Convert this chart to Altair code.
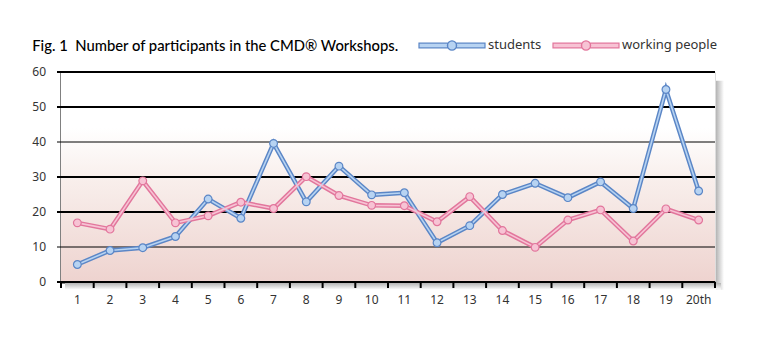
import altair as alt
import pandas as pd

workshops = ["1", "2", "3", "4", "5", "6", "7", "8", "9", "10",
             "11", "12", "13", "14", "15", "16", "17", "18", "19", "20th"]
students = [5, 9, 9.8, 13, 23.7, 18.2, 39.6, 22.9, 33.1, 24.9,
            25.5, 11.2, 16.1, 25, 28.2, 24.1, 28.6, 21, 55, 26]
working_people = [16.9, 15.1, 28.9, 16.9, 18.9, 22.8, 21, 30.1, 24.7, 21.9,
                  21.8, 17.2, 24.4, 14.7, 9.9, 17.7, 20.6, 11.7, 20.9, 17.7]
series_names = ["students", "working people"]
dark_colors = ["#5b86c6", "#e2769c"]
light_colors = ["#b7d3f2", "#f7c3d4"]
y_ticks = [0, 10, 20, 30, 40, 50, 60]
thin_ticks = [10, 40]

rows = []
for w, s, p in zip(workshops, students, working_people):
    rows.append({"workshop": w, "series": "students", "value": s})
    rows.append({"workshop": w, "series": "working people", "value": p})
df = pd.DataFrame(rows)
ticks_df = pd.DataFrame({"value": y_ticks})
ticks_df["thin"] = ticks_df["value"].isin(thin_ticks)
cats_df = pd.DataFrame({"workshop": workshops})
bg_df = pd.DataFrame({"value": [44], "bottom": [0]})
panel_df = pd.DataFrame({"value": [60], "bottom": [0]})

x_scale = alt.Scale(domain=workshops, paddingInner=0, paddingOuter=0)
x_axis = alt.Axis(labelAngle=0, ticks=False, domainColor="#000000",
                  domainWidth=2, labelPadding=12, labelFont="Noto Sans",
                  labelFontSize=12, labelColor="#333333", grid=False,
                  labelOverlap=False)

def X(band=0.5):
    return alt.X("workshop:N", sort=workshops, title=None, scale=x_scale,
                 axis=x_axis, bandPosition=band)

def Y(field="value"):
    return alt.Y(f"{field}:Q", title=None,
                 scale=alt.Scale(domain=[0, 60]),
                 axis=alt.Axis(labels=False, ticks=False, grid=False,
                               domainColor="#000000", domainWidth=2))

panel = alt.Chart(panel_df).mark_rect(color="#ffffff").encode(y=Y(), y2="bottom:Q")

gradient = alt.Chart(bg_df).mark_rect(
    color={"gradient": "linear", "x1": 0, "y1": 0, "x2": 0, "y2": 1,
           "stops": [{"offset": 0, "color": "#ffffff"},
                     {"offset": 0.35, "color": "#f8eeeb"},
                     {"offset": 1, "color": "#eed3cf"}]}
).encode(y=Y(), y2="bottom:Q")

grid = alt.Chart(ticks_df).mark_rule(color="#000000").encode(
    y=Y(),
    x=alt.value(-4), x2=alt.value("width"),
    strokeWidth=alt.condition("datum.thin", alt.value(1), alt.value(2)))

y_labels = alt.Chart(ticks_df).mark_text(
    align="right", baseline="middle", font="Noto Sans", fontSize=12, color="#333333"
).encode(y=Y(), x=alt.value(-15), text="value:Q")

x_ticks = alt.Chart(cats_df).mark_rule(color="#000000", strokeWidth=2).encode(
    x=X(0), y=alt.value(210), y2=alt.value(216))
x_tick_end = alt.Chart(panel_df).mark_rule(color="#000000", strokeWidth=2).encode(
    x=alt.value("width"), y=alt.value(210), y2=alt.value(216))

legend_path = ("M-1,-0.07 L-0.13,-0.07 L-0.13,0.07 L-1,0.07 Z "
               "M0.13,-0.07 L1,-0.07 L1,0.07 L0.13,0.07 Z "
               "M0.14,0 A0.14,0.14 0 1,1 -0.14,0 A0.14,0.14 0 1,1 0.14,0 Z")

def make_legend():
    return alt.Legend(title=None, orient="none", direction="horizontal",
                      legendX=357, legendY=-61,
                      symbolType=legend_path, symbolSize=4356,
                      symbolStrokeWidth=1.2, labelFont="Noto Sans",
                      labelFontSize=13, labelColor="#333333",
                      labelOffset=2, columnPadding=8)

stroke_enc = alt.Stroke("series:N", sort=series_names,
                        scale=alt.Scale(domain=series_names, range=dark_colors),
                        legend=make_legend())
fill_enc = alt.Fill("series:N", sort=series_names,
                    scale=alt.Scale(domain=series_names, range=light_colors),
                    legend=make_legend())

base = alt.Chart(df)
outer = base.mark_line(strokeWidth=4.5).encode(x=X(), y=Y(), stroke=stroke_enc)
inner = base.mark_line(strokeWidth=1.6).encode(
    x=X(), y=Y(),
    color=alt.Color("series:N", scale=alt.Scale(domain=series_names, range=light_colors),
                    legend=None))
points = base.mark_point(filled=False, size=60, strokeWidth=1.2, opacity=1).encode(
    x=X(), y=Y(), stroke=stroke_enc, fill=fill_enc)

shadow_right = alt.Chart(panel_df).mark_rect(
    color={"gradient": "linear", "x1": 0, "y1": 0, "x2": 1, "y2": 0,
           "stops": [{"offset": 0, "color": "#b4b4b4"}, {"offset": 1, "color": "#ffffff"}]}
).encode(x=alt.value(655), x2=alt.value(663), y=alt.datum(57.5), y2=alt.datum(-2.2))

shadow_bottom = alt.Chart(panel_df).mark_rect(
    color={"gradient": "linear", "x1": 0, "y1": 0, "x2": 0, "y2": 1,
           "stops": [{"offset": 0, "color": "#b4b4b4"}, {"offset": 1, "color": "#ffffff"}]}
).encode(x=alt.value(4), x2=alt.value(660), y=alt.datum(-0.3), y2=alt.datum(-2.2))

chart = alt.layer(panel, gradient, shadow_right, shadow_bottom, grid, y_labels,
                  x_ticks, x_tick_end, outer, inner, points).properties(
    width=654, height=210,
    autosize=alt.AutoSizeParams(type="none"),
    padding={"left": 61, "top": 72, "right": 53, "bottom": 76},
    title=alt.TitleParams("Fig. 1\u00a0\u00a0Number of participants in the CMD\u00ae Workshops.",
                          anchor="start", dx=0, offset=-43, font="Lato",
                          fontSize=14.8, fontWeight=500, color="#000000")
).configure_view(stroke=None).configure(background="#ffffff").configure_axis(zindex=1)

chart.save("out.html", embed_options={"renderer": "svg", "actions": False})
